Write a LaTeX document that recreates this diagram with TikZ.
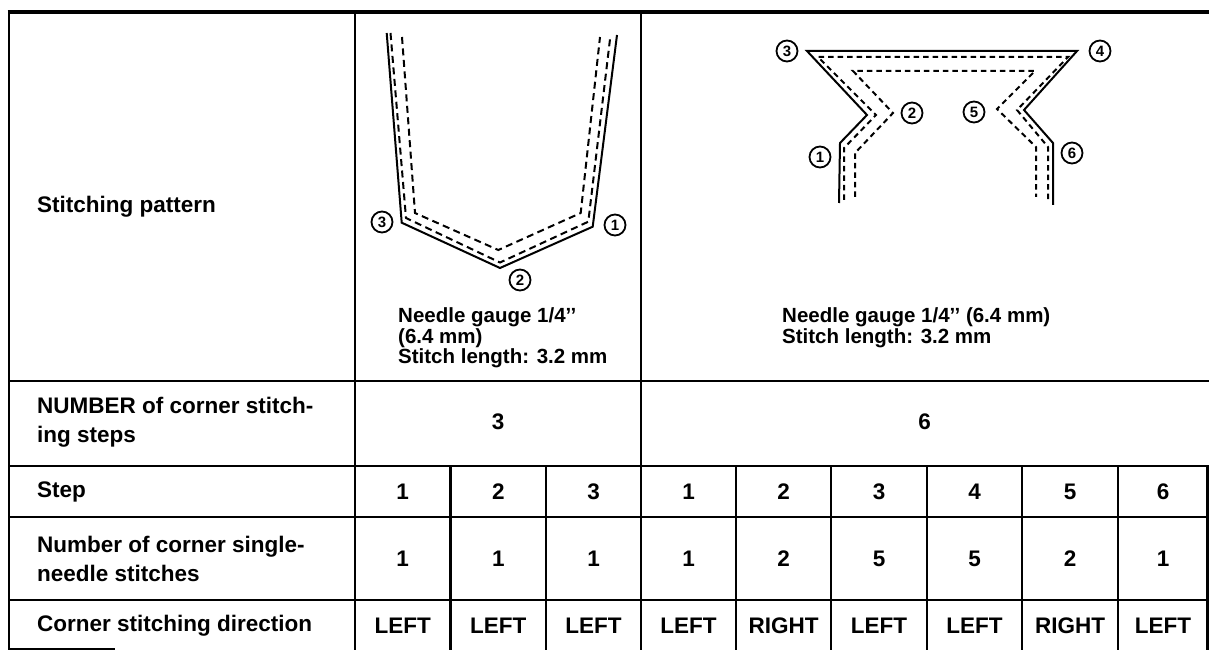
\documentclass[tikz,border=0pt]{standalone}
\usepackage{fontspec}
\setmainfont{Liberation Sans}
\newfontfamily\labfont{Liberation Sans Bold}
\begin{document}
\begin{tikzpicture}[x=1pt,y=-1pt,
  rule/.style={line width=2.2pt},
  thickrule/.style={line width=3.4pt},
  lab/.style={anchor=west, align=left, inner sep=0pt, font=\labfont\fontsize{22.5}{29}\selectfont},
  val/.style={anchor=center, inner sep=0pt, font=\labfont\fontsize{22.5}{29}\selectfont},
  note/.style={anchor=west, inner sep=0pt, font=\labfont\fontsize{20.5}{20}\selectfont},
  cnum/.style={circle, draw, line width=1.8pt, minimum size=21pt, inner sep=0pt, font=\labfont\fontsize{15}{15}\selectfont},
  seam/.style={line width=2pt, line join=miter},
  stitch/.style={line width=2pt, dash pattern=on 7pt off 4.5pt},
  rstitch/.style={line width=2pt, dash pattern=on 5.5pt off 4pt}]
\useasboundingbox (0,0) rectangle (1209,652);
% table rules
\draw[thickrule] (7.5,12) -- (1209,12);
\draw[rule] (9,11) -- (9,650);
\draw[rule] (355,12) -- (355,650);
\draw[rule] (641,12) -- (641,650);
\foreach \y in {381,466,517,600} \draw[rule] (9,\y) -- (1209,\y);
\foreach \x in {450.5,546,736,831,927,1022,1118} \draw[rule] (\x,466) -- (\x,650);
\draw[rule] (1207.5,466) -- (1207.5,650);
\draw[rule] (9,649) -- (115,649);
% left figure
\coordinate (La) at (386.7,33);
\coordinate (Lb) at (401.7,222.7);
\coordinate (Lc) at (500,268);
\coordinate (Ld) at (592.7,226.7);
\coordinate (Le) at (617,35);
\draw[seam] (La) -- (Lb) -- (Lc) -- (Ld) -- (Le);
\draw[stitch] (390.5,33) -- (406,218) -- (500,262.5) -- (588.3,221.7) -- (610.5,35);
\draw[stitch] (402,37) -- (415,213) -- (498.3,250) -- (580.7,213) -- (600,37);
\node[cnum] (l3) at (382,222) {3};
\node[cnum] (l2) at (520,280) {2};
\node[cnum] (l1) at (615,225) {1};
\node[note] (n1a) at (398,317) {Needle gauge 1/4’’};
\node[note] (n1b) at (398,338) {(6.4 mm)};
\node[note] (n1c) at (398,358) {Stitch length: 3.2 mm};
% right figure
\draw[seam] (839,203) -- (840,143) -- (867,115) -- (807,51) -- (1077,51) -- (1024,110) -- (1053,143) -- (1053,205);
\draw[rstitch] (844,200) -- (844,148) -- (876,115) -- (818,57) -- (1068,57) -- (1017,110) -- (1048,147) -- (1048,200);
\draw[rstitch] (855,197) -- (855,153) -- (893,113) -- (853,71) -- (1035,71) -- (997,109) -- (1036,147) -- (1036,197);
\node[cnum] (r3) at (787,51) {3};
\node[cnum] (r4) at (1100,51) {4};
\node[cnum] (r2) at (912,113) {2};
\node[cnum] (r5) at (974,112) {5};
\node[cnum] (r1) at (820,157) {1};
\node[cnum] (r6) at (1072,153) {6};
\node[note] (n2a) at (782,317) {Needle gauge 1/4’’ (6.4 mm)};
\node[note] (n2b) at (782,338) {Stitch length: 3.2 mm};
% labels
\node[lab] (t1) at (37,207) {Stitching pattern};
\node[lab] (t2) at (37,422.5) {NUMBER of corner stitch-\\ing steps};
\node[lab] (t3) at (37,491.5) {Step};
\node[lab] (t4) at (37,558.5) {Number of corner single-\\needle stitches};
\node[lab] (t5) at (37,626) {Corner stitching direction};
% values
\node[val] (k3) at (498,422) {3};
\node[val] (k6) at (924.5,422) {6};
\foreach \x/\s/\n/\d [count=\i] in {402.75/1/1/LEFT, 498.25/2/1/LEFT, 593.5/3/1/LEFT, 688.5/1/1/LEFT, 783.5/2/2/RIGHT, 879/3/5/LEFT, 974.5/4/5/LEFT, 1070/5/2/RIGHT, 1163/6/1/LEFT}{
  \node[val] (s\i) at (\x,491.5) {\s};
  \node[val] (m\i) at (\x,558.5) {\n};
  \node[val] (d\i) at (\x,626) {\d};
}
\end{tikzpicture}
\end{document}
